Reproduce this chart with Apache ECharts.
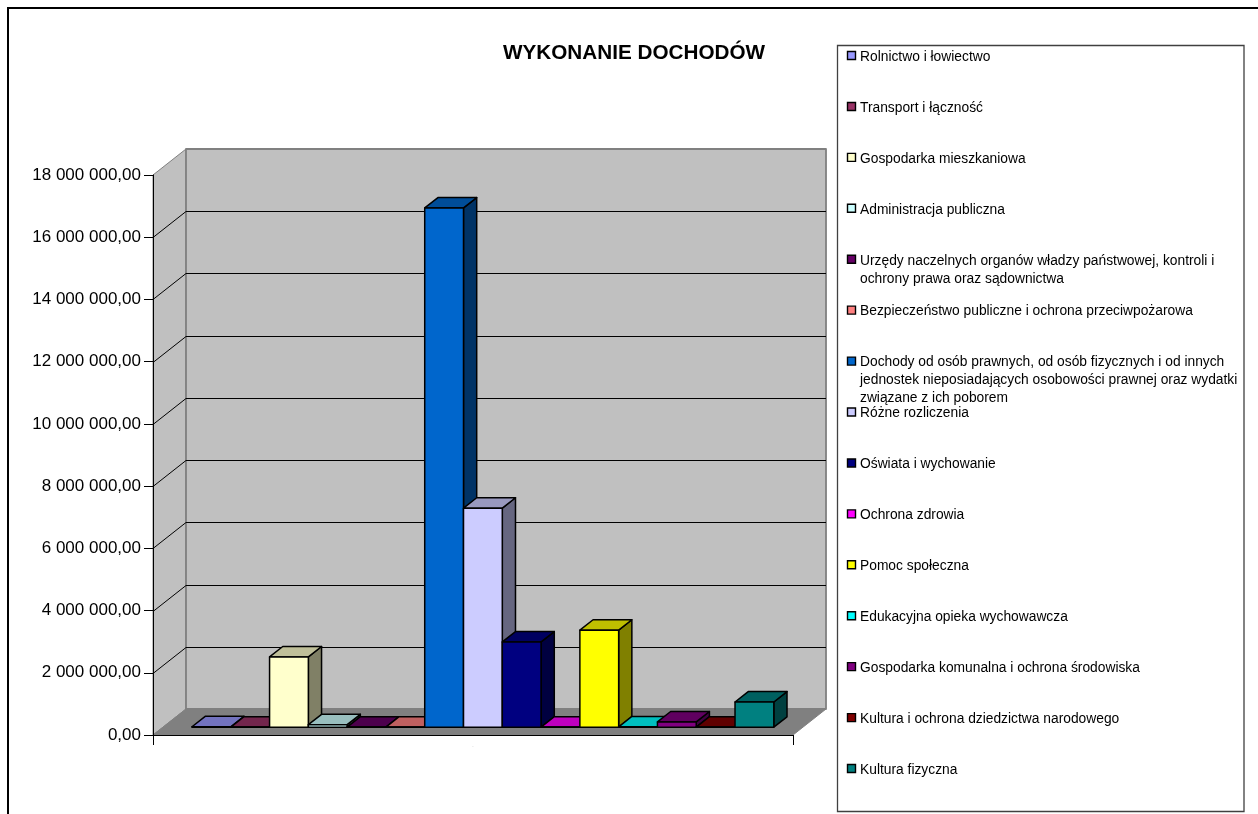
<!DOCTYPE html>
<html>
<head>
<meta charset="utf-8">
<style>
  html, body { margin: 0; padding: 0; background: #fff; }
  #chart { width: 1258px; height: 814px; }
</style>
<script src="https://cdn.jsdelivr.net/npm/echarts@6/dist/echarts.min.js"></script>
</head>
<body>
<div id="chart"></div>
<script>
const categories = ['.']
const seriesNames = [
  'Rolnictwo i łowiectwo',
  'Transport i łączność',
  'Gospodarka mieszkaniowa',
  'Administracja publiczna',
  'Urzędy naczelnych organów władzy państwowej, kontroli i\nochrony prawa oraz sądownictwa',
  'Bezpieczeństwo publiczne i ochrona przeciwpożarowa',
  'Dochody od osób prawnych, od osób fizycznych i od innych\njednostek nieposiadających osobowości prawnej oraz wydatki\nzwiązane z ich poborem',
  'Różne rozliczenia',
  'Oświata i wychowanie',
  'Ochrona zdrowia',
  'Pomoc społeczna',
  'Edukacyjna opieka wychowawcza',
  'Gospodarka komunalna i ochrona środowiska',
  'Kultura i ochrona dziedzictwa narodowego',
  'Kultura fizyczna'
]
const seriesValues = [
  15000, 5000, 2260000, 80000, 3000, 4000, 16690000, 7040000,
  2740000, 4000, 3120000, 12000, 170000, 3000, 810000
]
const seriesColors = [
  '#9999FF', '#993366', '#FFFFCC', '#CCFFFF', '#660066', '#FF8080', '#0066CC', '#CCCCFF',
  '#000080', '#FF00FF', '#FFFF00', '#00FFFF', '#800080', '#800000', '#008080'
]
const yTicks = [0, 2000000, 4000000, 6000000, 8000000, 10000000, 12000000, 14000000, 16000000, 18000000]

// depth of the fake 3d box in pixels, excel gap depth 150%
const depthX = 33
const depthY = 26
const barDepthX = depthX / 2.5
const barDepthY = depthY / 2.5
const barShiftX = depthX * 0.3
const barShiftY = depthY * 0.3
const gapWidth = 1.5

function shade(hex, k) {
  const n = parseInt(hex.slice(1), 16)
  const c = [n >> 16 & 255, n >> 8 & 255, n & 255].map(v => Math.round(v * k))
  return 'rgb(' + c.join(',') + ')'
}

function formatTick(v) {
  return String(v).replace(/\B(?=(\d{3})+$)/g, ' ') + ',00'
}

function poly(points, fill, stroke, lineWidth) {
  return {
    type: 'polygon',
    shape: { points },
    style: { fill, stroke, lineWidth, lineJoin: 'round' }
  }
}

function renderWalls(params, api) {
  const band = api.size([1, 0])[0]
  const c0 = api.coord([0, 0])
  const c1 = api.coord([0, 18000000])
  const l = c0[0] - band / 2
  const r = c0[0] + band / 2
  const children = [
    poly([[l, c1[1]], [l + depthX, c1[1] - depthY], [l + depthX, c0[1] - depthY], [l, c0[1]]], '#C0C0C0', '#808080', 1),
    poly([[l + depthX, c1[1] - depthY], [r + depthX, c1[1] - depthY], [r + depthX, c0[1] - depthY], [l + depthX, c0[1] - depthY]], '#C0C0C0', '#808080', 1.8),
    poly([[l, c0[1]], [l + depthX, c0[1] - depthY], [r + depthX, c0[1] - depthY], [r, c0[1]]], '#808080', '#808080', 1)
  ]
  yTicks.forEach(function (t) {
    if (t === 0 || t === 18000000) return
    const y = Math.round(api.coord([0, t])[1]) + 0.5
    children.push({
      type: 'polyline',
      shape: { points: [[l, y], [l + depthX, y - depthY], [r + depthX, y - depthY]] },
      style: { fill: 'none', stroke: '#000', lineWidth: 1 }
    })
  })
  return { type: 'group', children }
}

function renderBar(i) {
  return function (params, api) {
    const band = api.size([1, 0])[0]
    const w = band / (seriesValues.length + gapWidth)
    const c = api.coord([0, api.value(1)])
    const c0 = api.coord([0, 0])
    const x0 = c0[0] + (i - seriesValues.length / 2) * w + barShiftX
    const x1 = x0 + w
    const yb = c0[1] - barShiftY
    const yt = c[1] - barShiftY
    const dx = barDepthX
    const dy = barDepthY
    const col = seriesColors[i]
    return {
      type: 'group',
      children: [
        poly([[x1, yb], [x1 + dx, yb - dy], [x1 + dx, yt - dy], [x1, yt]], shade(col, 0.5), '#000', 1.5),
        poly([[x0, yt], [x0 + dx, yt - dy], [x1 + dx, yt - dy], [x1, yt]], shade(col, 0.75), '#000', 1.5),
        poly([[x0, yb], [x1, yb], [x1, yt], [x0, yt]], col, '#000', 1.5)
      ]
    }
  }
}

const series = [{
  type: 'custom',
  name: 'walls',
  z: 0,
  silent: true,
  clip: false,
  data: [[0, 0]],
  encode: { x: 0, y: 1 },
  renderItem: renderWalls
}]
seriesNames.forEach(function (name, i) {
  series.push({
    type: 'custom',
    name: name.replace(/\n/g, ' '),
    z: 3 + i,
    clip: false,
    data: [[0, seriesValues[i]]],
    encode: { x: 0, y: 1 },
    renderItem: renderBar(i)
  })
})

// legend box is hand placed because the first lines sit on an even step
const legendGraphic = [{
  type: 'rect',
  shape: { x: 837.5, y: 45.5, width: 406.5, height: 766 },
  style: { fill: '#fff', stroke: '#404040', lineWidth: 1.3 }
}]
seriesNames.forEach(function (name, i) {
  const y = 56.5 + i * 50.93
  legendGraphic.push({
    type: 'rect',
    shape: { x: 847.5, y: y - 5, width: 8, height: 8 },
    style: { fill: seriesColors[i], stroke: '#000', lineWidth: 1.4 }
  })
  legendGraphic.push({
    type: 'text',
    x: 860,
    y: y - 8.5,
    style: {
      text: name,
      fill: '#000',
      font: '13.8px "Liberation Sans", Arial, sans-serif',
      lineHeight: 18,
      verticalAlign: 'top'
    }
  })
})

const chart = echarts.init(document.getElementById('chart'))
chart.setOption({
  animation: false,
  backgroundColor: '#fff',
  title: {
    text: 'WYKONANIE DOCHODÓW',
    left: 498,
    top: 38,
    textStyle: {
      color: '#000',
      fontFamily: '"Liberation Sans", Arial, sans-serif',
      fontWeight: 'bold',
      fontSize: 20.7
    }
  },
  grid: {
    left: 153,
    right: 465,
    top: 175,
    bottom: 79
  },
  xAxis: {
    type: 'category',
    data: categories,
    z: 1,
    axisLine: {
      lineStyle: {
        color: '#000'
      }
    },
    axisTick: {
      show: true,
      length: 10,
      lineStyle: {
        color: '#000'
      }
    },
    axisLabel: {
      show: true,
      margin: 8,
      fontSize: 5,
      color: '#999'
    },
    splitLine: {
      show: false
    }
  },
  yAxis: {
    type: 'value',
    min: 0,
    max: 18000000,
    interval: 2000000,
    z: 1,
    axisLine: {
      show: true,
      lineStyle: {
        color: '#000'
      }
    },
    axisTick: {
      show: true,
      length: 9,
      lineStyle: {
        color: '#000'
      }
    },
    axisLabel: {
      margin: 12,
      color: '#000',
      fontFamily: '"Liberation Sans", Arial, sans-serif',
      fontSize: 17,
      padding: [2, 0, 0, 0],
      formatter: formatTick
    },
    splitLine: {
      show: false
    }
  },
  series,
  graphic: [{
    type: 'rect',
    z: -1,
    silent: true,
    shape: { x: 8, y: 8, width: 1300, height: 900 },
    style: { fill: 'none', stroke: '#000', lineWidth: 2 }
  }].concat(legendGraphic)
})
</script>
</body>
</html>
